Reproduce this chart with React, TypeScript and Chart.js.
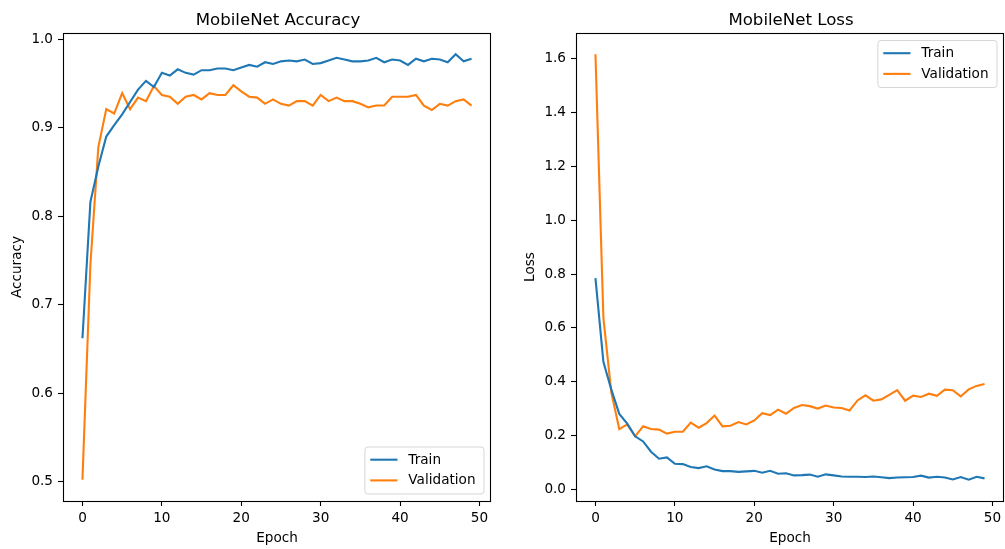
import React, { useEffect, useRef } from "react";
import { Chart, registerables } from "chart.js";

Chart.register(...registerables);

const epochs = [
  0, 1, 2, 3, 4, 5, 6, 7, 8, 9, 10, 11, 12, 13, 14, 15, 16, 17, 18, 19, 20, 21, 22, 23, 24,
  25, 26, 27, 28, 29, 30, 31, 32, 33, 34, 35, 36, 37, 38, 39, 40, 41, 42, 43, 44, 45, 46, 47, 48, 49,
];

const trainAcc = [
  0.662, 0.816, 0.856, 0.89, 0.903, 0.915, 0.929, 0.943, 0.953, 0.946,
  0.962, 0.959, 0.966, 0.962, 0.96, 0.965, 0.965, 0.967, 0.967, 0.965,
  0.968, 0.971, 0.969, 0.974, 0.972, 0.975, 0.976, 0.975, 0.977, 0.972,
  0.973, 0.976, 0.979, 0.977, 0.975, 0.975, 0.976, 0.979, 0.974, 0.977,
  0.976, 0.971, 0.978, 0.975, 0.978, 0.977, 0.974, 0.983, 0.975, 0.978,
];

const valAcc = [
  0.502, 0.745, 0.878, 0.921, 0.916, 0.939, 0.921, 0.934, 0.93, 0.947,
  0.937, 0.935, 0.927, 0.935, 0.937, 0.932, 0.939, 0.937, 0.937, 0.948,
  0.941, 0.935, 0.934, 0.927, 0.932, 0.927, 0.925, 0.93, 0.93, 0.925,
  0.937, 0.93, 0.934, 0.93, 0.93, 0.927, 0.923, 0.925, 0.925, 0.935,
  0.935, 0.935, 0.937, 0.925, 0.92, 0.927, 0.925, 0.93, 0.932, 0.925,
];

const trainLoss = [
  0.785, 0.474, 0.371, 0.281, 0.245, 0.198, 0.179, 0.141, 0.115, 0.12,
  0.096, 0.095, 0.084, 0.08, 0.087, 0.075, 0.069, 0.069, 0.066, 0.068,
  0.07, 0.063, 0.07, 0.059, 0.061, 0.053, 0.054, 0.056, 0.048, 0.057,
  0.053, 0.049, 0.048, 0.048, 0.047, 0.049, 0.046, 0.043, 0.045, 0.046,
  0.047, 0.052, 0.045, 0.048, 0.045, 0.038, 0.047, 0.037, 0.048, 0.042,
];

const valLoss = [
  1.615, 0.637, 0.36, 0.225, 0.242, 0.198, 0.235, 0.225, 0.223, 0.208,
  0.215, 0.215, 0.249, 0.23, 0.247, 0.275, 0.235, 0.237, 0.251, 0.242,
  0.257, 0.284, 0.277, 0.297, 0.282, 0.303, 0.314, 0.31, 0.301, 0.312,
  0.305, 0.303, 0.294, 0.331, 0.35, 0.33, 0.335, 0.352, 0.369, 0.33,
  0.349, 0.344, 0.356, 0.348, 0.371, 0.369, 0.346, 0.372, 0.385, 0.392,
];

const xTicks = [0, 10, 20, 30, 40, 50];
const accTicks = [0.5, 0.6, 0.7, 0.8, 0.9, 1.0];
const lossTicks = [0.0, 0.2, 0.4, 0.6, 0.8, 1.0, 1.2, 1.4, 1.6];
const seriesLabels = ["Train", "Validation"];
const seriesColors = ["#1f77b4", "#ff7f0e"];

const FONT = "'DejaVu Sans', 'Liberation Sans', sans-serif";
const SMALL = 13.6;
const BIG = 16.6;

function mplRange(values: number[]) {
  const lo = Math.min(...values);
  const hi = Math.max(...values);
  const m = (hi - lo) * 0.05;
  return [lo - m, hi + m];
}

type PanelProps = {
  left: number;
  width: number;
  yAxisWidth: number;
  padRight: number;
  title: string;
  yLabel: string;
  yLabelPad: number;
  series: number[][];
  yTicks: number[];
  legendCorner: "lr" | "ur";
};

function Panel(p: PanelProps) {
  const ref = useRef<HTMLCanvasElement | null>(null);

  useEffect(() => {
    if (!ref.current) return;
    const [xmin, xmax] = mplRange(epochs);
    const [ymin, ymax] = mplRange(p.series.flat());

    const mplPlugin = {
      id: "mplDecor",
      afterDatasetsDraw(chart: any) {
        const { ctx, chartArea: a } = chart;
        ctx.save();
        // frame
        ctx.strokeStyle = "#000";
        ctx.lineWidth = 1.1;
        ctx.strokeRect(Math.round(a.left) + 0.5, Math.round(a.top) + 0.5,
          Math.round(a.right - a.left) - 1, Math.round(a.bottom - a.top));
        // title
        ctx.fillStyle = "#000";
        ctx.font = `${BIG}px ${FONT}`;
        ctx.textAlign = "center";
        ctx.textBaseline = "alphabetic";
        ctx.fillText(p.title, (a.left + a.right) / 2 + 1, a.top - 8.5);
        // legend
        ctx.font = `${SMALL}px ${FONT}`;
        const tw = Math.max(...seriesLabels.map((l) => ctx.measureText(l).width));
        const bw = tw + 52;
        const bh = 47;
        const bx = a.right - 7 - bw;
        const by = p.legendCorner === "lr" ? a.bottom - 7 - bh : a.top + 7.5;
        ctx.beginPath();
        ctx.roundRect(bx, by, bw, bh, 3);
        ctx.fillStyle = "rgba(255,255,255,0.8)";
        ctx.fill();
        ctx.strokeStyle = "rgba(204,204,204,0.8)";
        ctx.lineWidth = 1;
        ctx.stroke();
        seriesLabels.forEach((lab, i) => {
          const y = by + 12.7 + i * 20.7;
          ctx.beginPath();
          ctx.moveTo(bx + 5.4, y);
          ctx.lineTo(bx + 32.6, y);
          ctx.strokeStyle = seriesColors[i];
          ctx.lineWidth = 2.1;
          ctx.stroke();
          ctx.fillStyle = "#000";
          ctx.textAlign = "left";
          ctx.textBaseline = "middle";
          ctx.fillText(lab, bx + 43.5, y + 0.5);
        });
        ctx.restore();
      },
    };

    const tickFont = { family: FONT, size: SMALL };
    const gridOpts = {
      display: true,
      drawOnChartArea: false,
      drawTicks: true,
      tickLength: 5,
      tickColor: "#000",
      tickWidth: 1.1,
      color: "#000",
    };

    const chart = new Chart(ref.current, {
      type: "line",
      data: {
        datasets: p.series.map((s, i) => ({
          label: seriesLabels[i],
          data: epochs.map((e, j) => ({ x: e, y: s[j] })),
          borderColor: seriesColors[i],
          backgroundColor: seriesColors[i],
          borderWidth: 2.1,
          pointRadius: 0,
          tension: 0,
          fill: false,
        })),
      },
      options: {
        animation: false,
        responsive: false,
        events: [],
        layout: { padding: { left: 0, right: p.padRight, top: 33, bottom: 0 } },
        plugins: {
          legend: { display: false },
          tooltip: { enabled: false },
          title: { display: false },
        },
        scales: {
          x: {
            type: "linear",
            min: xmin,
            max: xmax,
            afterBuildTicks: (s: any) => {
              s.ticks = xTicks.map((v) => ({ value: v }));
            },
            afterFit: (s: any) => {
              s.height = 48;
              s.paddingLeft = 0;
              s.paddingRight = 0;
            },
            grid: gridOpts,
            border: { display: false },
            ticks: {
              color: "#000",
              font: tickFont,
              padding: 4,
              maxRotation: 0,
              autoSkip: false,
              callback: (v: any) => String(v),
            },
            title: {
              display: true,
              text: "Epoch",
              color: "#000",
              font: tickFont,
              padding: { top: 0, bottom: 2.5 },
            },
          },
          y: {
            type: "linear",
            min: ymin,
            max: ymax,
            afterBuildTicks: (s: any) => {
              s.ticks = p.yTicks.map((v) => ({ value: v }));
            },
            afterFit: (s: any) => {
              s.width = p.yAxisWidth;
              s.paddingTop = 0;
              s.paddingBottom = 0;
            },
            grid: gridOpts,
            border: { display: false },
            ticks: {
              color: "#000",
              font: tickFont,
              padding: 5,
              autoSkip: false,
              callback: (v: any) => Number(v).toFixed(1),
            },
            title: {
              display: true,
              text: p.yLabel,
              color: "#000",
              font: tickFont,
              padding: { top: p.yLabelPad, bottom: 0 },
            },
          },
        },
      },
      plugins: [mplPlugin],
    } as any);

    return () => chart.destroy();
  }, []);

  return (
    <canvas
      ref={ref}
      width={p.width}
      height={549}
      style={{ position: "absolute", left: p.left, top: 0, width: p.width, height: 549, display: "block" }}
    />
  );
}

export default function App() {
  return (
    <div style={{ position: "absolute", left: 0, top: 0, width: 1005, height: 549, background: "#fff", overflow: "hidden" }}>
      <Panel
        left={0}
        width={502}
        yAxisWidth={63}
        padRight={11}
        title="MobileNet Accuracy"
        yLabel="Accuracy"
        yLabelPad={9}
        series={[trainAcc, valAcc]}
        yTicks={accTicks}
        legendCorner="lr"
      />
      <Panel
        left={502}
        width={503}
        yAxisWidth={74}
        padRight={1}
        title="MobileNet Loss"
        yLabel="Loss"
        yLabelPad={20.5}
        series={[trainLoss, valLoss]}
        yTicks={lossTicks}
        legendCorner="ur"
      />
    </div>
  );
}
